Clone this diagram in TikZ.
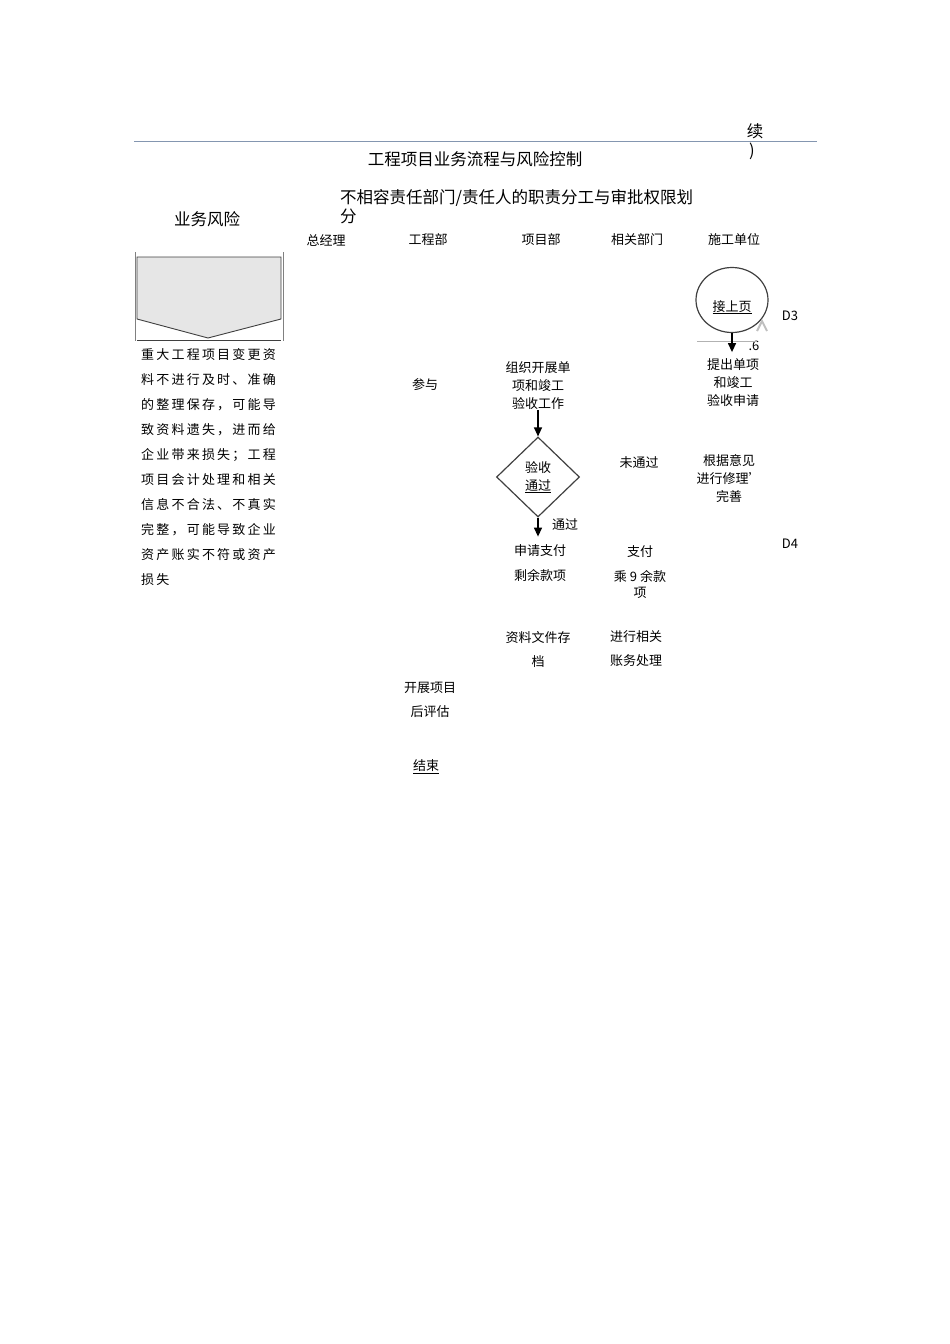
\documentclass[tikz,border=0pt]{standalone}
\usepackage{fontspec}
\setmainfont{Noto Sans CJK SC}
\newfontfamily\riskfont[LetterSpace=17]{Noto Sans CJK SC}
\usepackage{xcolor}
\usetikzlibrary{shapes.geometric, arrows.meta, positioning}

\definecolor{ruleblue}{HTML}{8496B0}
\definecolor{boxgray}{HTML}{E6E6E6}
\definecolor{linegray}{HTML}{404040}

\tikzset{
  flow/.style={align=center, font=\fontsize{13}{18}\selectfont, inner sep=0pt},
  head/.style={font=\fontsize{13}{16}\selectfont, inner sep=0pt},
  big/.style={font=\fontsize{16.5}{19}\selectfont, inner sep=0pt},
  arr/.style={-{Triangle[width=8pt,length=9pt]}, line width=1.3pt}
}

\begin{document}
\begin{tikzpicture}[x=1pt,y=-1pt]
  \useasboundingbox (0,0) rectangle (950,1344);

  % Draw the rule at the top
  \draw[ruleblue, line width=1pt] (134,141) -- (817,141);
  \node[big] (Cont) at (755,131) {续};
  \node[big] (Paren) at (752,151) {)};

  \node[big] (Title) at (475,159) {工程项目业务流程与风险控制};
  \node[big, anchor=west, align=left] (Duty) at (340,207) {不相容责任部门/责任人的职责分工与审批权限划\\分};
  \node[big] (Risk) at (207,219) {业务风险};

  \node[head] (GM) at (326,240) {总经理};
  \node[head] (Eng) at (428,240) {工程部};
  \node[head] (Proj) at (541,240) {项目部};
  \node[head] (Rel) at (637,240) {相关部门};
  \node[head] (Con) at (734,240) {施工单位};

  % Draw the risk box (pentagon)
  \draw[gray] (135,252) -- (135,341);
  \draw[gray] (283,252) -- (283,341);
  \draw[linegray, fill=boxgray, line width=0.9pt] (137,257) -- (281,257) -- (281,319) -- (208,338) -- (137,319) -- cycle;
  \draw[linegray, line width=0.9pt] (137,340) -- (281,340);

  \node[anchor=north west, align=left, inner sep=0pt, font=\riskfont\fontsize{13}{25}\selectfont] (RiskText) at (141,348)
    {重大工程项目变更资\\料不进行及时、准确\\的整理保存，可能导\\致资料遗失，进而给\\企业带来损失；工程\\项目会计处理和相关\\信息不合法、不真实\\完整，可能导致企业\\资产账实不符或资产\\损失};

  % Flow nodes
  \node[draw=linegray, line width=1.2pt, ellipse, minimum width=72pt, minimum height=65pt, flow] (Prev) at (732,300) {\raisebox{-11pt}[0pt][0pt]{\underline{接上页}}};
  \node[flow] (D3) at (790,316) {D3};
  \node[flow] (Six) at (754,346) {.6};
  \draw[gray!60, line width=1pt] (697,341) -- (757,341);
  \draw[gray!50, line width=2pt] (757,331) -- (762,321) -- (767,331);

  \node[flow] (Apply) at (733,383) {提出单项\\和竣工\\验收申请};
  \node[flow] (Join) at (425,385) {参与};
  \node[flow] (Organize) at (538,386) {组织开展单\\项和竣工\\验收工作};
  \node[draw=linegray, line width=1.2pt, diamond, aspect=1.05, minimum width=83pt, minimum height=80pt, flow] (Check) at (538,477) {验收\\\underline{通过}};
  \node[flow] (Fail) at (639,463) {未通过};
  \node[flow] (Repair) at (729,479) {根据意见\\进行修理'\\完善};
  \node[flow] (Pass) at (565,525) {通过};

  \node[flow, font=\fontsize{13}{25}\selectfont] (Request) at (540,563) {申请支付\\剩余款项};
  \node[flow] (Pay) at (640,552) {支付};
  \node[flow, font=\fontsize{13}{16}\selectfont] (PayRest) at (640,584) {乘 9 余款\\项};
  \node[flow] (D4) at (790,544) {D4};

  \node[flow, font=\fontsize{13}{24}\selectfont] (Archive) at (538,649) {资料文件存\\档};
  \node[flow, font=\fontsize{13}{24}\selectfont] (Account) at (636,649) {进行相关\\账务处理};
  \node[flow, font=\fontsize{13}{24}\selectfont] (Review) at (430,700) {开展项目\\后评估};
  \node[flow] (End) at (426,767) {\underline{结束}};

  % Draw the arrows
  \draw[arr] (Prev.south) -- ++(0,19);
  \draw[arr] (Organize.south) -- (Check.north);
  \draw[arr] (Check.south) -- ++(0,19);

\end{tikzpicture}
\end{document}
